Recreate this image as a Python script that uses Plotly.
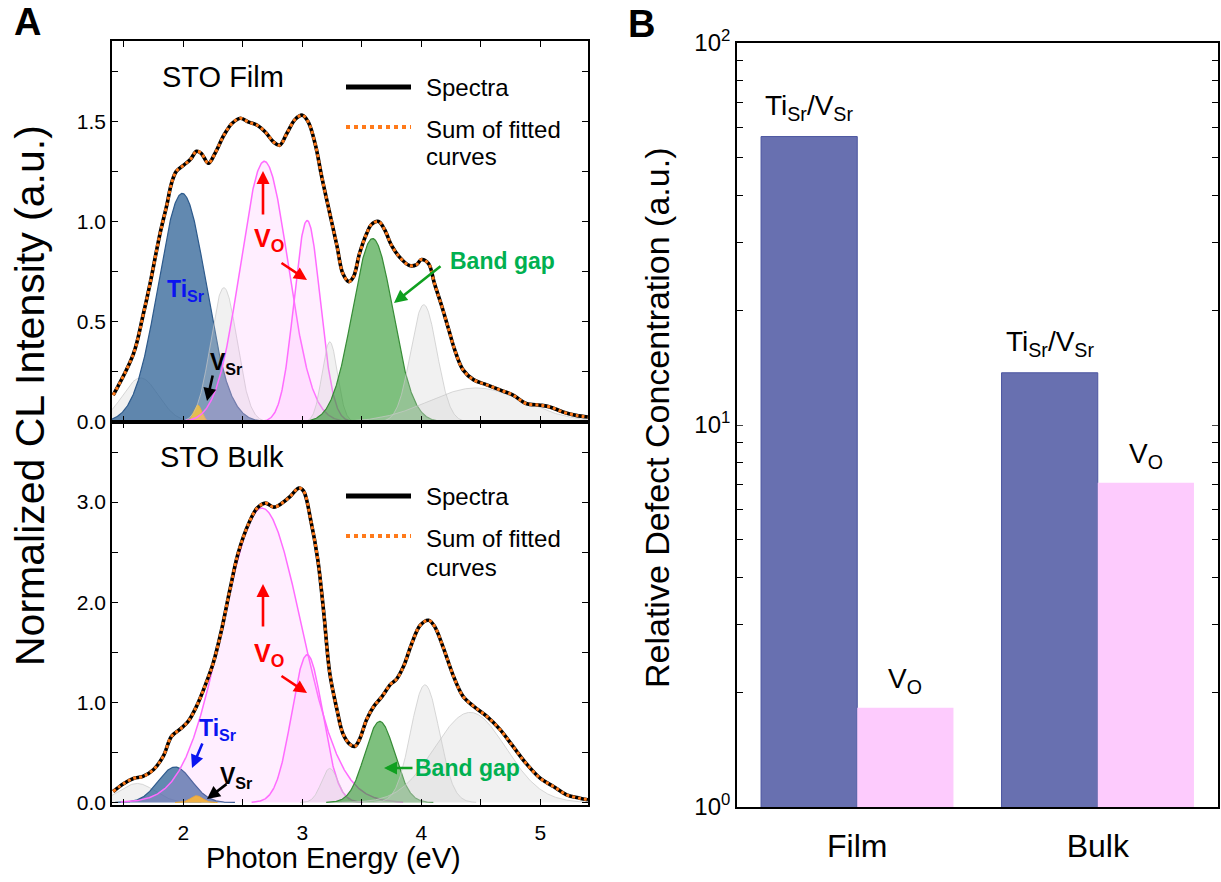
import numpy as np
import plotly.graph_objects as go

W, H = 1221, 882
FONT = "Liberation Sans, Arial, sans-serif"

film_energy = [1.41, 1.58, 1.66, 1.72, 1.80, 1.86, 1.90, 1.94, 2.00, 2.06, 2.11, 2.15, 2.21, 2.27,
               2.34, 2.41, 2.48, 2.55, 2.62, 2.69, 2.76, 2.81, 2.87, 2.94, 3.00, 3.05, 3.11, 3.16,
               3.23, 3.29, 3.34, 3.39, 3.43, 3.48, 3.54, 3.58, 3.64, 3.69, 3.75, 3.82, 3.90, 3.96,
               4.00, 4.06, 4.11, 4.17, 4.23, 4.28, 4.35, 4.44, 4.55, 4.66, 4.77, 4.88, 5.00, 5.08,
               5.19, 5.30, 5.40]
film_intensity = [0.134, 0.34, 0.53, 0.69, 0.93, 1.08, 1.19, 1.25, 1.28, 1.31, 1.35, 1.34, 1.29, 1.345,
                  1.43, 1.49, 1.515, 1.495, 1.48, 1.445, 1.395, 1.38, 1.44, 1.51, 1.53, 1.495, 1.38, 1.23,
                  1.04, 0.88, 0.74, 0.70, 0.725, 0.84, 0.94, 0.985, 1.00, 0.96, 0.88, 0.82, 0.78, 0.785,
                  0.81, 0.79, 0.69, 0.58, 0.46, 0.36, 0.26, 0.21, 0.185, 0.16, 0.134, 0.092, 0.084, 0.075,
                  0.05, 0.033, 0.025]

bulk_energy = [1.41, 1.50, 1.58, 1.66, 1.75, 1.83, 1.90, 1.97, 2.04, 2.11, 2.18, 2.25, 2.32, 2.39,
               2.46, 2.55, 2.62, 2.69, 2.76, 2.83, 2.90, 2.97, 3.01, 3.07, 3.13, 3.18, 3.23, 3.29,
               3.34, 3.40, 3.44, 3.48, 3.54, 3.60, 3.67, 3.74, 3.79, 3.85, 3.92, 3.99, 4.06, 4.11,
               4.18, 4.27, 4.35, 4.44, 4.55, 4.66, 4.77, 4.88, 5.00, 5.11, 5.22, 5.33, 5.40]
bulk_intensity = [0.11, 0.19, 0.24, 0.26, 0.33, 0.46, 0.66, 0.73, 0.81, 0.96, 1.16, 1.39, 1.72, 2.12,
                  2.49, 2.79, 2.94, 2.99, 2.95, 2.99, 3.06, 3.14, 3.11, 2.82, 2.42, 1.89, 1.29, 0.93,
                  0.69, 0.58, 0.56, 0.63, 0.83, 0.96, 1.06, 1.18, 1.23, 1.36, 1.59, 1.77, 1.82, 1.76,
                  1.56, 1.26, 1.06, 0.96, 0.86, 0.73, 0.56, 0.39, 0.24, 0.16, 0.077, 0.043, 0.027]

# ---------------- data: fitted Gaussian components ----------------
film_kind = ["other", "ti", "vsr", "other", "vo", "vo", "other", "gap", "other", "other"]
film_center = [1.64, 1.99, 2.12, 2.34, 2.68, 3.04, 3.23, 3.59, 4.02, 4.46]
film_amp = [0.22, 1.14, 0.085, 0.67, 1.30, 1.005, 0.40, 0.915, 0.585, 0.17]
film_sigma = [0.15, 0.20, 0.035, 0.11, 0.20, 0.11, 0.065, 0.17, 0.11, 0.40]

bulk_kind = ["other", "ti", "vsr", "vo", "vo", "other", "gap", "other", "other"]
bulk_center = [1.61, 1.93, 2.11, 2.66, 3.04, 3.23, 3.65, 4.03, 4.41]
bulk_amp = [0.19, 0.355, 0.067, 2.94, 1.475, 0.34, 0.81, 1.175, 0.90]
bulk_sigma = [0.15, 0.14, 0.05, 0.33, 0.13, 0.07, 0.125, 0.12, 0.30]

# ---------------- data: panel B ----------------
samples = ["Film", "Bulk"]
ti_vsr_conc = [56.9, 13.7]
vo_conc = [1.82, 7.06]

# ---------------- styles ----------------
STYLE = {
    "other": dict(fill="rgba(205,205,205,0.28)", line="rgba(200,200,200,0.7)", w=1),
    "ti": dict(fill="rgba(45,98,150,0.75)", line="rgb(45,90,140)", w=1.2),
    "vsr": dict(fill="rgba(245,185,25,0.95)", line="rgb(235,170,20)", w=1),
    "vo": dict(fill="rgba(255,150,255,0.16)", line="#FF6BFF", w=1.5),
    "gap": dict(fill="rgba(40,150,40,0.6)", line="rgb(55,140,55)", w=1.2),
}

def PX(x):
    return x / W

def PY(y):
    return 1 - y / H

fig = go.Figure()

E = np.linspace(1.4, 5.4, 1201)

def add_components(kinds, centers, amps, sigmas, xa, ya):
    for k, c, a, s in zip(kinds, centers, amps, sigmas):
        m = np.abs(E - c) < 3.6 * s
        e = E[m]
        yv = a * np.exp(-(e - c) ** 2 / (2 * s ** 2))
        st = STYLE[k]
        fig.add_trace(go.Scatter(x=e, y=yv, mode="lines", fill="tozeroy",
                                 fillcolor=st["fill"], line=dict(color=st["line"], width=st["w"]),
                                 xaxis=xa, yaxis=ya, showlegend=False, hoverinfo="skip"))

def add_spectrum(ex, iy, xa, ya):
    fig.add_trace(go.Scatter(x=ex, y=iy, mode="lines", line=dict(color="black", width=3.6, shape="spline"),
                             xaxis=xa, yaxis=ya, showlegend=False))
    fig.add_trace(go.Scatter(x=ex, y=iy, mode="lines",
                             line=dict(color="#FF7A1A", width=3, dash="dot", shape="spline"),
                             xaxis=xa, yaxis=ya, showlegend=False))

add_components(film_kind, film_center, film_amp, film_sigma, "x", "y")
add_spectrum(film_energy, film_intensity, "x", "y")
add_components(bulk_kind, bulk_center, bulk_amp, bulk_sigma, "x2", "y2")
add_spectrum(bulk_energy, bulk_intensity, "x2", "y2")

# Panel B bars
xpos = list(range(len(samples)))
fig.add_trace(go.Bar(x=xpos, y=ti_vsr_conc, width=0.4, offset=-0.4,
                     marker=dict(color="#6870B0", line=dict(color="#4B55A0", width=1)),
                     xaxis="x3", yaxis="y3", showlegend=False))
fig.add_trace(go.Bar(x=xpos, y=vo_conc, width=0.4, offset=0.0, marker=dict(color="#FDCBFD", line=dict(width=0)),
                     xaxis="x3", yaxis="y3", showlegend=False))

# ---------------- axes ----------------
xA = [112 / W, 588 / W]
top_dom = [PY(422), PY(41)]
bot_dom = [PY(805), PY(422)]
axis_common = dict(showline=True, linecolor="black", linewidth=1.6, mirror="ticks", ticks="inside",
                   ticklen=6, tickwidth=1.2, tickcolor="black", showgrid=False, zeroline=False,
                   automargin=False, tickfont=dict(family=FONT, size=21, color="black"))

fig.update_layout(
    width=W, height=H, autosize=False, margin=dict(l=0, r=0, t=0, b=0, pad=0),
    paper_bgcolor="white", plot_bgcolor="rgba(0,0,0,0)", bargap=0.2,
    xaxis=dict(axis_common, domain=xA, anchor="y", range=[1.4, 5.4], dtick=1, tick0=0,
               showticklabels=False, minor=dict(dtick=0.5, ticks="inside", ticklen=6, tickcolor="black")),
    yaxis=dict(axis_common, domain=top_dom, anchor="x", range=[0, 1.9], dtick=0.5, tick0=0, tickformat=".1f",
               minor=dict(dtick=0.25, ticks="inside", ticklen=6, tickcolor="black")),
    xaxis2=dict(axis_common, domain=xA, anchor="y2", range=[1.4, 5.4], dtick=1, tick0=0,
                ticklabelstandoff=8,
                minor=dict(dtick=0.5, ticks="inside", ticklen=6, tickcolor="black")),
    yaxis2=dict(axis_common, domain=bot_dom, anchor="x2", range=[-0.025, 3.8], dtick=1, tick0=0,
                tickformat=".1f", minor=dict(dtick=0.5, ticks="inside", ticklen=6, tickcolor="black")),
    xaxis3=dict(domain=[737 / W, 1218 / W], anchor="y3", range=[-0.5, 1.5], tickvals=xpos, ticktext=samples,
                showline=True, linecolor="black", linewidth=1.6, mirror=True, ticks="", showgrid=False,
                zeroline=False, automargin=False, ticklabelstandoff=10,
                tickfont=dict(family=FONT, size=32, color="black")),
    yaxis3=dict(domain=[PY(807), PY(43)], anchor="x3", type="log", range=[0, 2], tickvals=[1, 10, 100],
                ticktext=["10<sup>0</sup>", "10<sup>1</sup>", "10<sup>2</sup>"], showline=True,
                linecolor="black", linewidth=1.6, mirror="ticks", ticks="inside", ticklen=6, tickwidth=1.2,
                showgrid=False, zeroline=False, automargin=False,
                minor=dict(tickvals=[2, 3, 4, 5, 6, 7, 8, 9, 20, 30, 40, 50, 60, 70, 80, 90],
                           ticks="inside", ticklen=6, tickcolor="black"),
                tickfont=dict(family=FONT, size=24, color="black")),
)

# ---------------- annotations ----------------
ann = []
shapes = []

def txt(s, x, y, size, color="black", bold=False, xanchor="left", angle=0):
    if bold:
        s = "<b>" + s + "</b>"
    ann.append(dict(text=s, x=PX(x), y=PY(y), xref="paper", yref="paper", xanchor=xanchor,
                    yanchor="middle", showarrow=False, textangle=angle,
                    font=dict(family=FONT, size=size, color=color)))

def arrow(head, tail, color, width=2.6):
    ann.append(dict(text="", x=PX(head[0]), y=PY(head[1]), xref="paper", yref="paper",
                    ax=tail[0] - head[0], ay=tail[1] - head[1], axref="pixel", ayref="pixel",
                    showarrow=True, arrowhead=2, arrowsize=1.0, arrowwidth=width, arrowcolor=color))

def legend_block(y_line1, y_line2, y_text2):
    shapes.append(dict(type="line", xref="paper", yref="paper", x0=PX(346), x1=PX(411),
                       y0=PY(y_line1), y1=PY(y_line1), line=dict(color="black", width=5)))
    shapes.append(dict(type="line", xref="paper", yref="paper", x0=PX(346), x1=PX(411),
                       y0=PY(y_line2), y1=PY(y_line2), line=dict(color="#FF7A1A", width=4, dash="dot")))
    txt("Spectra", 424, y_line1, 24)
    txt("Sum of fitted", 424, y_line2 + 2, 24)
    txt("curves", 424, y_text2, 24)

# panel letters
txt("A", 27, 22, 38, bold=True, xanchor="center")
txt("B", 641, 24, 38, bold=True, xanchor="center")

# axis titles
txt("Normalized CL Intensity (a.u.)", 30, 396, 41, xanchor="center", angle=-90)
txt("Photon Energy (eV)", 333, 858, 29, xanchor="center")
txt("Relative Defect Concentration (a.u.)", 657, 418, 34, xanchor="center", angle=-90)

# top panel (film)
txt("STO Film", 160, 77, 29)
legend_block(87, 127, 157)
txt("Ti<sub>Sr</sub>", 165, 290, 23, color="#0A14F0", bold=True)
txt("V<sub>Sr</sub>", 208, 363, 23, bold=True)
arrow((207, 401), (213, 374), "black")
txt("V<sub>O</sub>", 252, 240, 25, color="#FF0000", bold=True)
arrow((263, 171), (263, 216), "#FF0000")
arrow((307, 280), (280, 262), "#FF0000")
txt("Band gap", 448, 261, 23, color="#00B050", bold=True)
arrow((394, 303), (442, 265), "#10A020")

# bottom panel (bulk)
txt("STO Bulk", 158, 457, 29)
legend_block(496, 536, 567)
txt("V<sub>O</sub>", 252, 655, 25, color="#FF0000", bold=True)
arrow((263, 584), (263, 628), "#FF0000")
arrow((307, 693), (280, 675), "#FF0000")
txt("Ti<sub>Sr</sub>", 197, 729, 23, color="#0A14F0", bold=True)
arrow((192, 768), (203, 742), "#0A14F0")
txt("V<sub>Sr</sub>", 218, 777, 23, bold=True)
arrow((207, 799), (228, 783), "black")
txt("Band gap", 413, 768, 23, color="#00B050", bold=True)
arrow((384, 768), (414, 768), "#10A020")

# panel B bar labels
for i in xpos:
    ann.append(dict(text="Ti<sub>Sr</sub>/V<sub>Sr</sub>", x=i - 0.2, y=np.log10(ti_vsr_conc[i]),
                    xref="x3", yref="y3", xanchor="center", yanchor="bottom", yshift=10, showarrow=False,
                    font=dict(family=FONT, size=28, color="black")))
    ann.append(dict(text="V<sub>O</sub>", x=i + 0.2, y=np.log10(vo_conc[i]),
                    xref="x3", yref="y3", xanchor="center", yanchor="bottom", yshift=8, showarrow=False,
                    font=dict(family=FONT, size=28, color="black")))

fig.update_layout(annotations=ann, shapes=shapes)
fig.write_html("out.html")
